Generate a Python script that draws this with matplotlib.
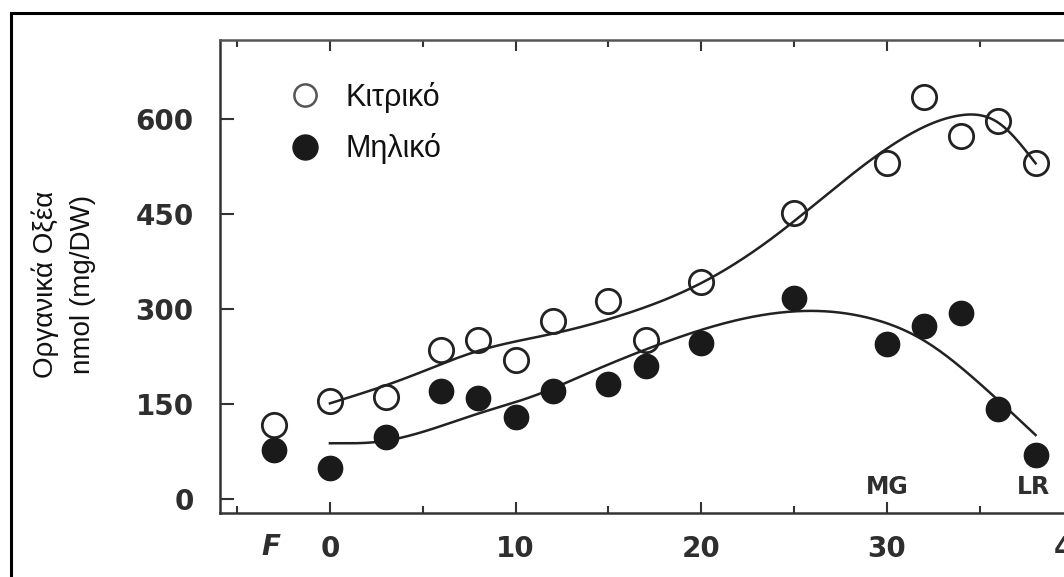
import numpy as np
import matplotlib
matplotlib.use("Agg")
import matplotlib.pyplot as plt
from matplotlib.patches import Rectangle
from matplotlib.lines import Line2D
import matplotlib.transforms as mtransforms

# ---- data ----
days = [-3, 0, 3, 6, 8, 10, 12, 15, 17, 20, 25, 30, 32, 34, 36, 38]
citric = [117, 154, 161, 235, 251, 220, 281, 313, 251, 342, 452, 531, 634, 573, 597, 531]
malic = [77, 49, 98, 170, 160, 130, 171, 181, 210, 247, 318, 244, 273, 294, 142, 70]

# fitted trend curves (knots)
cit_knot_x = [0, 4, 8, 12, 16, 20, 24, 28, 31, 34, 36, 38]
cit_knot_y = [151, 190, 234, 261, 293, 341, 416, 510, 572, 606, 594, 530]
mal_knot_x = [0, 2.5, 5, 8, 11, 14, 17, 20, 23, 26, 29, 32, 35, 38]
mal_knot_y = [88, 90, 106, 135, 163, 200, 236, 267, 289, 297, 286, 250, 182, 101]

x_major = [0, 10, 20, 30, 40]
x_labels = ["0", "10", "20", "30", "40"]
x_minor = [-5, 5, 15, 25, 35]
y_ticks = [0, 150, 300, 450, 600]
y_labels = ["0", "150", "300", "450", "600"]
series_names = ["Κιτρικό", "Μηλικό"]
ylabel = "Οργανικά Οξέα\nnmol (mg/DW)"
stage_labels = [("MG", 30), ("LR", 37.9)]


def spline(xk, yk, xs, start_slope=None):
    """Cubic spline; natural ends, or clamped start if start_slope given."""
    xk = np.asarray(xk, float)
    yk = np.asarray(yk, float)
    n = len(xk)
    h = np.diff(xk)
    A = np.zeros((n, n))
    r = np.zeros(n)
    if start_slope is None:
        A[0, 0] = 1.0
    else:
        A[0, 0] = 2 * h[0]
        A[0, 1] = h[0]
        r[0] = 3 * ((yk[1] - yk[0]) / h[0] - start_slope)
    A[-1, -1] = 1.0
    for i in range(1, n - 1):
        A[i, i - 1] = h[i - 1]
        A[i, i] = 2 * (h[i - 1] + h[i])
        A[i, i + 1] = h[i]
        r[i] = 3 * ((yk[i + 1] - yk[i]) / h[i] - (yk[i] - yk[i - 1]) / h[i - 1])
    c = np.linalg.solve(A, r)
    b = (yk[1:] - yk[:-1]) / h - h * (2 * c[:-1] + c[1:]) / 3
    d = (c[1:] - c[:-1]) / (3 * h)
    idx = np.clip(np.searchsorted(xk, xs) - 1, 0, n - 2)
    dx = xs - xk[idx]
    return yk[idx] + b[idx] * dx + c[idx] * dx ** 2 + d[idx] * dx ** 3


W, H = 1064, 577
fig = plt.figure(figsize=(W / 100, H / 100), dpi=100)
fig.patch.set_facecolor("white")

# outer frame of the scanned figure
fig.patches.append(Rectangle((11 / W, -0.5), 2.0, (H - 13) / H + 0.5,
                             transform=fig.transFigure, fill=False,
                             ec="black", lw=2.2))

xmin, xmax = -5.92, 41.0
ymin, ymax = -22.1, 724.7
px_per_x = 18.57
left_px, top_px, bottom_px = 220, 40, 513
right_px = left_px + (xmax - xmin) * px_per_x
ax = fig.add_axes([left_px / W, 1 - bottom_px / H,
                   (right_px - left_px) / W, (bottom_px - top_px) / H])
ax.set_xlim(xmin, xmax)
ax.set_ylim(ymin, ymax)
ax.set_facecolor("none")

ink = "#222222"
for s in ax.spines.values():
    s.set_color("#333333")
    s.set_linewidth(1.8)
ax.spines["top"].set_color("#555555")

# curves
xs_c = np.linspace(cit_knot_x[0], cit_knot_x[-1], 400)
ax.plot(xs_c, spline(cit_knot_x, cit_knot_y, xs_c), color=ink, lw=1.8, zorder=2)
xs_m = np.linspace(mal_knot_x[0], mal_knot_x[-1], 400)
ax.plot(xs_m, spline(mal_knot_x, mal_knot_y, xs_m, start_slope=0.0),
        color=ink, lw=1.8, zorder=2)

# points
ax.plot(days, citric, linestyle="none", marker="o", markersize=17.5,
        markerfacecolor="none", markeredgecolor=ink, markeredgewidth=2.0, zorder=3)
ax.plot(days, malic, linestyle="none", marker="o", markersize=17.5,
        markerfacecolor="#1a1a1a", markeredgecolor="#1a1a1a", zorder=3)

# ticks
ax.set_xticks(x_major)
ax.set_xticklabels(x_labels)
ax.set_xticks(x_minor, minor=True)
ax.set_yticks(y_ticks)
ax.set_yticklabels(y_labels)
ax.tick_params(axis="both", which="both", direction="in", top=True, right=False,
               color="#333333", width=1.5)
ax.tick_params(axis="x", which="major", length=8, pad=16)
ax.tick_params(axis="x", which="minor", length=5)
ax.tick_params(axis="y", which="major", length=10, pad=19)
for lab in ax.get_xticklabels() + ax.get_yticklabels():
    lab.set_fontfamily("DejaVu Sans")
    lab.set_fontweight("bold")
    lab.set_fontsize(20)
    lab.set_color("#2e2e2e")

# 'F' (flowering) label below the axis
trans = mtransforms.blended_transform_factory(ax.transData, ax.transAxes)
ax.text(-3.2, -0.072, "F", transform=trans, ha="center", va="center",
        fontsize=20, fontweight="bold", fontstyle="italic", color="#2e2e2e",
        family="DejaVu Sans")

# stage labels
for txt, xv in stage_labels:
    ax.text(xv, 19, txt, ha="center", va="center", fontsize=17,
            fontweight="bold", color="#2e2e2e", family="DejaVu Sans")

# y label
fig.text(64 / W, 1 - 284 / H, ylabel, rotation=90, ha="center", va="center",
         fontsize=20, family="Liberation Sans", color="#111111", linespacing=1.55)

# legend
handles = [
    Line2D([], [], linestyle="none", marker="o", markersize=16,
           markerfacecolor="none", markeredgecolor="#555555", markeredgewidth=1.8),
    Line2D([], [], linestyle="none", marker="o", markersize=18,
           markerfacecolor="#1a1a1a", markeredgecolor="#1a1a1a"),
]
leg = ax.legend(handles, series_names, loc="upper left",
                bbox_to_anchor=(290 / W, 1 - 82 / H), bbox_transform=fig.transFigure,
                frameon=False, prop={"family": "Liberation Sans", "size": 22},
                handlelength=1.0, handletextpad=0.81, labelspacing=0.67,
                borderpad=0, borderaxespad=0)
for t in leg.get_texts():
    t.set_color("#111111")

fig.savefig("out.png", dpi=100, facecolor="white")
